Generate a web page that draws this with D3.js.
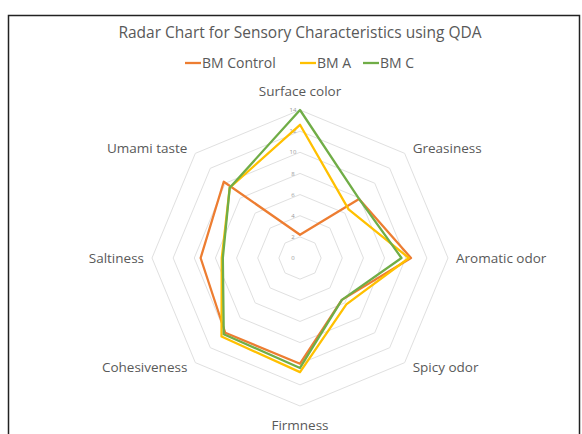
<!DOCTYPE html>
<html>
<head>
<meta charset="utf-8">
<script src="https://cdn.jsdelivr.net/npm/d3@7"></script>
<style>
  body { margin: 0; background: white; }
  text { font-family: "Open Sans", sans-serif; fill: #595959; }
</style>
</head>
<body>
<svg id="chart" width="582" height="434"></svg>
<script>
// categories around the radar, clockwise from the top
var categories = ["Surface color", "Greasiness", "Aromatic odor", "Spicy odor", "Firmness", "Cohesiveness", "Saltiness", "Umami taste"];
var seriesNames = ["BM Control", "BM A", "BM C"];
var seriesColors = ["#ED7D31", "#FFC000", "#70AD47"];
var bmControl = [2.2, 7.9, 10.5, 5.6, 10.0, 10.0, 9.4, 10.2];
var bmA = [12.6, 6.5, 10.3, 6.2, 10.8, 10.5, 7.4, 9.4];
var bmC = [14.0, 7.9, 9.6, 5.6, 10.4, 10.2, 7.3, 9.4];
var tickValues = [0, 2, 4, 6, 8, 10, 12, 14];

var svg = d3.select("#chart");
var cx = 300, cy = 258, radius = 148;

//frame around the chart
svg.append("rect")
  .attr("x", 8.5).attr("y", 15.5)
  .attr("width", 571).attr("height", 440)
  .attr("fill", "white")
  .attr("stroke", "#222").attr("stroke-width", 1.5);

//title
svg.append("text")
  .attr("x", cx).attr("y", 33)
  .attr("dy", "0.35em")
  .attr("text-anchor", "middle")
  .style("font-size", "15.5px")
  .text("Radar Chart for Sensory Characteristics using QDA");

var r = d3.scaleLinear().domain([0, 14]).range([0, radius]);
var angle = d3.scalePoint().domain(categories.concat(["_end"])).range([0, 2 * Math.PI]);

function point(cat, v) {
  var a = angle(cat);
  return [cx + r(v) * Math.sin(a), cy - r(v) * Math.cos(a)];
}

var g = svg.append("g");

//octagon gridlines
tickValues.slice(1).forEach(function(t) {
  var pts = categories.map(function(c) { return point(c, t); });
  g.append("polygon")
    .attr("points", pts.map(function(p) { return p.join(","); }).join(" "))
    .attr("fill", "none")
    .attr("stroke", "#e0e0e0")
    .attr("stroke-width", 1);
});

//value tick labels
g.selectAll(".tick")
  .data(tickValues)
  .enter().append("text")
  .attr("x", cx - 7)
  .attr("y", function(d) { return cy - r(d); })
  .attr("dy", "0.35em")
  .attr("text-anchor", "middle")
  .style("font-size", "6px")
  .style("fill", "#999")
  .text(function(d) { return d; });

//series lines
var allSeries = [bmControl, bmA, bmC];
var line = d3.line().curve(d3.curveLinearClosed);
allSeries.forEach(function(values, i) {
  var pts = categories.map(function(c, j) { return point(c, values[j]); });
  g.append("path")
    .attr("d", line(pts))
    .attr("fill", "none")
    .attr("stroke", seriesColors[i])
    .attr("stroke-width", 2.3)
    .attr("stroke-linejoin", "round");
});

//category labels
categories.forEach(function(c) {
  var a = angle(c);
  var sx = Math.sin(a), sy = -Math.cos(a);
  var p = point(c, 14);
  var x = p[0], y = p[1];
  var anchor = "middle";
  if (sx > 0.1) anchor = "start";
  if (sx < -0.1) anchor = "end";
  if (Math.abs(sx) > 0.9) {
    x += sx * 8;              // left / right
  } else if (Math.abs(sy) > 0.9) {
    y += sy * 19;             // top / bottom
  } else {
    x += Math.sign(sx) * 8;   // diagonals
    y += Math.sign(sy) * 5;
  }
  svg.append("text")
    .attr("x", x).attr("y", y)
    .attr("dy", "0.35em")
    .attr("text-anchor", anchor)
    .style("font-size", "13.5px")
    .text(c);
});

//legend
var legend = svg.append("g");
var legendX = [185, 300, 363];
var ly = 63;
seriesNames.forEach(function(name, i) {
  var item = legend.append("g").attr("transform", "translate(" + legendX[i] + "," + ly + ")");
  item.append("line")
    .attr("x1", 0).attr("x2", 16)
    .attr("y1", 0).attr("y2", 0)
    .attr("stroke", seriesColors[i]).attr("stroke-width", 2.3);
  item.append("text")
    .attr("x", 17).attr("y", 0).attr("dy", "0.35em")
    .style("font-size", "14px")
    .text(name);
});
</script>
</body>
</html>
